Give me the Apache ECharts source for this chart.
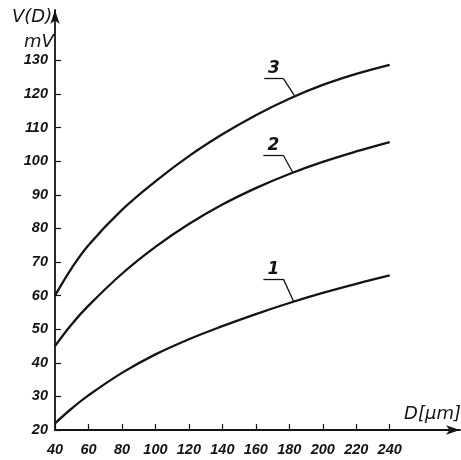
<!DOCTYPE html>
<html>
<head>
<meta charset="utf-8">
<script src="https://cdn.jsdelivr.net/npm/echarts@6/dist/echarts.min.js"></script>
<style>
  html, body { margin: 0; padding: 0; background: #fff; }
  #chart { width: 461px; height: 460px; }
</style>
</head>
<body>
<div id="chart"></div>
<script>
  var diameters = [40, 50, 60, 80, 100, 120, 140, 160, 180, 200, 220, 240];
  var curve1 = [22, 26.4, 30.3, 37, 42.5, 47, 50.9, 54.5, 57.8, 60.8, 63.5, 66];
  var curve2 = [45, 51.5, 57, 66.5, 74.5, 81.3, 87.1, 92, 96.2, 99.8, 102.9, 105.7];
  var curve3 = [60, 68.2, 75, 85.5, 94, 101.5, 108, 113.7, 118.6, 122.7, 126, 128.7];
  var xTicks = [40, 60, 80, 100, 120, 140, 160, 180, 200, 220, 240];
  var yTicks = [20, 30, 40, 50, 60, 70, 80, 90, 100, 110, 120, 130];
  // curve labels: [name, x where leader starts, x where leader bends, y of leader, point on curve]
  var curveTags = [
    ["1", 164.5, 176.5, 64.9, [182.5, 58.3]],
    ["2", 164.5, 176.5, 101.7, [182, 96.7]],
    ["3", 165, 176.5, 124.6, [183, 119.6]]
  ];

  var ink = "#141414";
  var tickFont = { fontFamily: "Liberation Sans", fontStyle: "italic", fontWeight: "bold", fontSize: 14.5, color: ink };

  function pairs(ys) {
    return diameters.map(function (d, i) { return [d, ys[i]]; });
  }

  function leader(tag) {
    return {
      silent: true,
      symbol: ["none", "none"],
      lineStyle: { color: ink, width: 1.3, type: "solid" },
      label: { show: false },
      data: [
        [{ coord: [tag[1], tag[3]], label: { show: true, formatter: tag[0], position: "insideMiddleTop", distance: 1,
             fontFamily: "DejaVu Sans", fontStyle: "italic", fontWeight: "bold", fontSize: 17, color: ink } },
         { coord: [tag[2], tag[3]] }],
        [{ coord: [tag[2], tag[3]] }, { coord: tag[4] }]
      ]
    };
  }

  var series = [curve1, curve2, curve3].map(function (ys, i) {
    return {
      type: "line",
      data: pairs(ys),
      smooth: 0.4,
      showSymbol: false,
      lineStyle: { color: ink, width: 2.3 },
      markLine: leader(curveTags[i])
    };
  });

  var chart = echarts.init(document.getElementById("chart"));
  chart.setOption({
    backgroundColor: "#fff",
    animation: false,
    grid: { left: 55, right: 1, top: 10, bottom: 30 },
    xAxis: {
      type: "value",
      min: 40,
      max: 282,
      splitLine: { show: false },
      axisLine: { lineStyle: { color: ink, width: 1.8 }, symbol: ["none", "arrow"], symbolSize: [7, 14] },
      axisTick: { inside: true, length: 6, customValues: xTicks, lineStyle: { color: ink, width: 1.2 } },
      axisLabel: Object.assign({ customValues: xTicks, margin: 12 }, tickFont)
    },
    yAxis: {
      type: "value",
      min: 20,
      max: 145,
      splitLine: { show: false },
      axisLine: { lineStyle: { color: ink, width: 1.8 }, symbol: ["none", "arrow"], symbolSize: [7, 14] },
      axisTick: { inside: true, length: 6, customValues: yTicks, lineStyle: { color: ink, width: 1.2 } },
      axisLabel: Object.assign({ customValues: yTicks, margin: 7 }, tickFont)
    },
    graphic: [
      { type: "text", left: 12, top: 8, style: { text: "V(D)", font: "italic 18px 'DejaVu Sans'", fill: ink } },
      { type: "text", left: 24, top: 33, style: { text: "mV", font: "italic 18px 'DejaVu Sans'", fill: ink } },
      { type: "text", right: 0, top: 405, style: { text: "D[μm]", font: "italic 18px 'DejaVu Sans'", fill: ink } }
    ],
    series: series
  });
</script>
</body>
</html>
